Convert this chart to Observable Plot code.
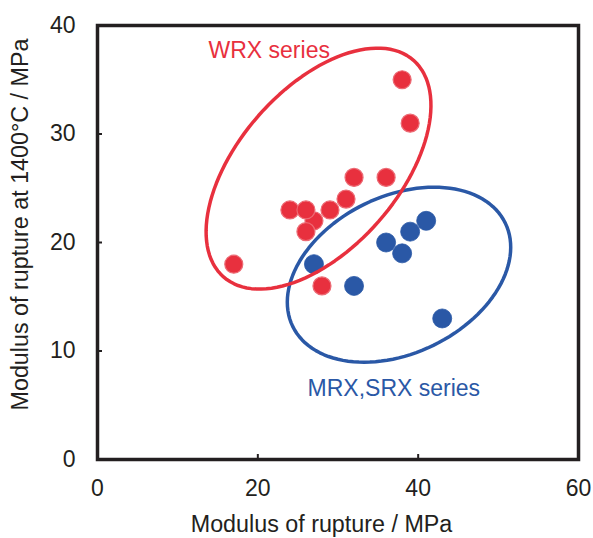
<!DOCTYPE html>
<html><head><meta charset="utf-8">
<script src="https://cdn.jsdelivr.net/npm/d3@7"></script>
<script src="https://cdn.jsdelivr.net/npm/@observablehq/plot@0.6"></script>
<style>html,body{margin:0;padding:0;background:#fff}svg{display:block}</style>
</head><body><div id="chart"></div>
<script>
// WRX series (red)
const wrxX = [17, 24, 27, 26, 26, 29, 31, 32, 36, 38, 39, 28];
const wrxY = [18, 23, 22, 23, 21, 23, 24, 26, 26, 35, 31, 16];
// MRX,SRX series (blue)
const mrxX = [27, 32, 36, 38, 39, 41, 43];
const mrxY = [18, 16, 20, 19, 21, 22, 13];
const xTicks = [0, 20, 40, 60];
const yTicks = [0, 10, 20, 30, 40];
const xLabel = "Modulus of rupture / MPa";
const yLabel = "Modulus of rupture at 1400°C / MPa";
const seriesNames = ["WRX series", "MRX,SRX series"];
const seriesLabelX = [13.85, 26.2];
const seriesLabelY = [37.73, 6.56];
// group outlines: centre and semi-axis vectors, data units
const outlineCx = [27.57, 37.61];
const outlineCy = [26.81, 17.03];
const outlineUx = [11.85, 13.26];
const outlineUy = [9.98, 4.76];
const outlineVx = [-7.50, -4.28];
const outlineVy = [4.87, 6.51];

const RED = "#e8303e", BLUE = "#2a58a6", INK = "#231f20";
const W = 593, H = 538, ML = 97, MR = 15, MT = 25, MB = 79;

const wrx = wrxX.map((x, i) => ({x, y: wrxY[i]}));
const mrx = mrxX.map((x, i) => ({x, y: mrxY[i]}));
function outline(k) {
  const pts = [];
  for (let i = 0; i < 120; i++) {
    const t = 2 * Math.PI * i / 120;
    pts.push({
      x: outlineCx[k] + outlineUx[k] * Math.cos(t) + outlineVx[k] * Math.sin(t),
      y: outlineCy[k] + outlineUy[k] * Math.cos(t) + outlineVy[k] * Math.sin(t)
    });
  }
  return pts;
}
const labels = seriesNames.map((t, i) => ({t, x: seriesLabelX[i], y: seriesLabelY[i], c: i ? BLUE : RED}));

const plot = Plot.plot({
  width: W, height: H,
  marginLeft: ML, marginRight: MR, marginTop: MT, marginBottom: MB,
  style: {fontFamily: "'Liberation Sans', Arial, sans-serif", fontSize: "23px", color: INK, background: "#fff"},
  x: {domain: [0, 60], ticks: xTicks},
  y: {domain: [0, 40], ticks: yTicks},
  marks: [
    Plot.axisX(xTicks, {tickSize: 0, tickPadding: 20, label: null, fontSize: 23}),
    Plot.axisY(yTicks, {tickSize: 0, tickPadding: 22, label: null, fontSize: 23}),
    Plot.tickX(xTicks, {x: d => d, insetTop: H - MT - MB - 5, stroke: INK, strokeWidth: 2}),
    Plot.tickY(yTicks, {y: d => d, insetRight: W - ML - MR - 5, stroke: INK, strokeWidth: 2}),
    Plot.dot(mrx, {x: "x", y: "y", r: 9.5, fill: BLUE, stroke: BLUE, strokeWidth: 0.8}),
    Plot.dot(wrx, {x: "x", y: "y", r: 9, fill: RED, stroke: "#ec6a74", strokeWidth: 1.2}),
    Plot.line(outline(1), {x: "x", y: "y", curve: "linear-closed", stroke: BLUE, strokeWidth: 3.5}),
    Plot.line(outline(0), {x: "x", y: "y", curve: "linear-closed", stroke: RED, strokeWidth: 3.5}),
    Plot.text(labels, {x: "x", y: "y", text: "t", fill: "c", textAnchor: "start", lineAnchor: "middle", fontSize: 23}),
    Plot.text([xLabel], {frameAnchor: "bottom", text: d => d, textAnchor: "middle", lineAnchor: "middle", dx: -16.5, dy: 65.5, fontSize: 23.3, fill: INK}),
    Plot.text([yLabel], {frameAnchor: "left", text: d => d, textAnchor: "middle", lineAnchor: "middle", rotate: -90, dx: -77, dy: -18, fontSize: 23.3, fill: INK}),
    Plot.frame({stroke: INK, strokeWidth: 3.5})
  ]
});
document.getElementById("chart").appendChild(plot);
</script>
</body></html>
